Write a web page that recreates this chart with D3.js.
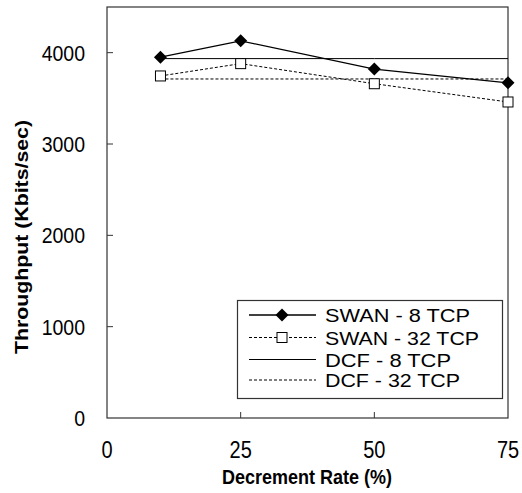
<!DOCTYPE html>
<html>
<head>
<meta charset="utf-8">
<script src="https://cdn.jsdelivr.net/npm/d3@7"></script>
<style>
  body { margin: 0; background: #fff; }
  svg { display: block; font-family: "Liberation Sans", Arial, sans-serif; }
</style>
</head>
<body>
<svg id="chart" width="522" height="493"></svg>
<script>
// ---- data ----
const decrementRates = [10, 25, 50, 75];
const swan8 = [3950, 4130, 3820, 3670];
const swan32 = [3745, 3880, 3660, 3460];
const dcf8 = [3935, 3935, 3935, 3935];
const dcf32 = [3712, 3712, 3712, 3712];
const xTicks = [0, 25, 50, 75];
const yTicks = [0, 1000, 2000, 3000, 4000];
const seriesNames = ["SWAN - 8 TCP", "SWAN - 32 TCP", "DCF - 8 TCP", "DCF - 32 TCP"];

const svg = d3.select("#chart");
const margin = { left: 107, right: 14, top: 7, bottom: 75 };
const W = 522, H = 493;
const x = d3.scaleLinear().domain([0, 75]).range([margin.left, W - margin.right]);
const y = d3.scaleLinear().domain([0, 4500]).range([H - margin.bottom, margin.top]);
const VS = 1.15; // vertical stretch of the reference text

// frame
svg.append("rect")
  .attr("x", x(0)).attr("y", y(4500))
  .attr("width", x(75) - x(0)).attr("height", y(0) - y(4500))
  .attr("fill", "none").attr("stroke", "#333").attr("stroke-width", 1.2);

// y ticks (inward)
const yAxis = svg.append("g");
yAxis.selectAll("line").data(yTicks.filter(d => d > 0)).join("line")
  .attr("x1", x(0)).attr("x2", x(0) + 6)
  .attr("y1", d => y(d)).attr("y2", d => y(d))
  .attr("stroke", "#333");
yAxis.selectAll("text").data(yTicks).join("text")
  .attr("transform", d => `translate(85,${y(d) + 8}) scale(1,${VS})`)
  .attr("text-anchor", "end").attr("font-size", 19.5).attr("fill", "#000")
  .text(d => d);

// x ticks (inward)
const xAxis = svg.append("g");
xAxis.selectAll("line").data(xTicks.filter(d => d > 0 && d < 75)).join("line")
  .attr("x1", d => x(d)).attr("x2", d => x(d))
  .attr("y1", y(0)).attr("y2", y(0) - 6)
  .attr("stroke", "#333");
xAxis.selectAll("text").data(xTicks).join("text")
  .attr("transform", d => `translate(${x(d)},458) scale(1,${VS})`)
  .attr("text-anchor", "middle").attr("font-size", 20).attr("fill", "#000")
  .text(d => d);

// axis titles
svg.append("text")
  .attr("transform", `translate(307,484) scale(1,${VS})`)
  .attr("text-anchor", "middle").attr("font-size", 18).attr("font-weight", "bold")
  .text("Decrement Rate (%)");
svg.append("text")
  .attr("transform", "translate(28,237) rotate(-90)")
  .attr("text-anchor", "middle").attr("font-size", 18.5).attr("font-weight", "bold")
  .attr("textLength", 234).attr("lengthAdjust", "spacingAndGlyphs")
  .text("Throughput (Kbits/sec)");

// lines
const line = d3.line().x(d => x(d[0])).y(d => y(d[1]));
const zip = vals => decrementRates.map((r, i) => [r, vals[i]]);
const styles = [
  { data: swan8, dash: null, width: 1.3, marker: "diamond" },
  { data: swan32, dash: "3,2", width: 1, marker: "square" },
  { data: dcf8, dash: null, width: 1, marker: null },
  { data: dcf32, dash: "3,2", width: 1, marker: null }
];
[2, 3, 1, 0].forEach(i => {
  const s = styles[i];
  svg.append("path").datum(zip(s.data))
    .attr("d", line).attr("fill", "none").attr("stroke", "#000")
    .attr("stroke-width", s.width)
    .attr("stroke-dasharray", s.dash);
});

function drawMarker(g, type, cx, cy) {
  if (type === "diamond") {
    g.append("path")
      .attr("d", `M${cx},${cy - 6.5}L${cx + 6.5},${cy}L${cx},${cy + 6.5}L${cx - 6.5},${cy}Z`)
      .attr("fill", "#000");
  } else if (type === "square") {
    g.append("rect")
      .attr("x", cx - 5).attr("y", cy - 5).attr("width", 10).attr("height", 10)
      .attr("fill", "#fff").attr("stroke", "#000").attr("stroke-width", 1);
  }
}
const markers = svg.append("g");
[1, 0].forEach(i => {
  const s = styles[i];
  zip(s.data).forEach(d => drawMarker(markers, s.marker, x(d[0]), y(d[1])));
});

// legend
const lg = svg.append("g");
lg.append("rect").attr("x", 237.5).attr("y", 300.5).attr("width", 265).attr("height", 98)
  .attr("fill", "#fff").attr("stroke", "#333").attr("stroke-width", 1.2);
const rowY = [315, 337.5, 359.5, 380];
const textLens = [145, 154, 126, 135];
seriesNames.forEach((name, i) => {
  const s = styles[i];
  lg.append("line").attr("x1", 249).attr("x2", 316)
    .attr("y1", rowY[i]).attr("y2", rowY[i])
    .attr("stroke", "#000").attr("stroke-width", s.width)
    .attr("stroke-dasharray", s.dash);
  drawMarker(lg, s.marker, 282, rowY[i]);
  lg.append("text").attr("x", 325).attr("y", rowY[i] + 7)
    .attr("font-size", 18)
    .attr("textLength", textLens[i]).attr("lengthAdjust", "spacingAndGlyphs")
    .text(name);
});
</script>
</body>
</html>
